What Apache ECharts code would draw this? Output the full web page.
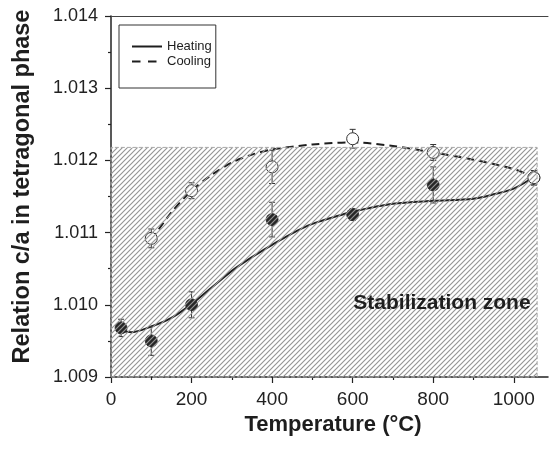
<!DOCTYPE html>
<html>
<head>
<meta charset="utf-8">
<script src="https://cdn.jsdelivr.net/npm/echarts@6/dist/echarts.min.js"></script>
<style>
  html, body { margin: 0; padding: 0; background: #fff; }
  #chart { width: 550px; height: 449px; }
</style>
</head>
<body>
<div id="chart"></div>
<script>
// Measured c/a ratio of the tetragonal phase (heating run)
const heatingTemp  = [25, 100, 200, 400, 600, 800, 1050];
const heatingRatio = [1.00968, 1.00950, 1.01000, 1.01118, 1.01125, 1.01166, 1.01176];
const heatingError = [0.00012, 0.00020, 0.00018, 0.00024, 0.00008, 0.00025, 0.00010];

// Measured c/a ratio (cooling run)
const coolingTemp  = [100, 200, 400, 600, 800, 1050];
const coolingRatio = [1.01092, 1.01158, 1.01191, 1.01230, 1.01211, 1.01176];
const coolingError = [0.00013, 0.00011, 0.00023, 0.00013, 0.00011, 0.00010];

// Fitted trend curves
const heatingFitTemp  = [25, 50, 100, 150, 200, 250, 300, 350, 400, 450, 500, 550, 600, 700, 800, 900, 950, 1000, 1050];
const heatingFitRatio = [1.00964, 1.00962, 1.00970, 1.00982, 1.01001, 1.01024, 1.01047, 1.01066, 1.01083, 1.01099, 1.01112, 1.01121, 1.01129, 1.01140, 1.01144, 1.01147, 1.01153, 1.01161, 1.01177];
const coolingFitTemp  = [100, 150, 200, 250, 300, 350, 400, 500, 600, 700, 800, 900, 1000, 1050];
const coolingFitRatio = [1.01090, 1.01128, 1.01158, 1.01180, 1.01197, 1.01208, 1.01215, 1.01222, 1.01225, 1.01220, 1.01211, 1.01201, 1.01188, 1.01177];

// Stabilization zone bounds
const zoneTemp  = [0, 1058];
const zoneRatio = [1.009, 1.01218];

// Axis ticks
const xTicks      = [0, 200, 400, 600, 800, 1000];
const xMinorTicks = [100, 300, 500, 700, 900];
const yTicks      = [1.009, 1.010, 1.011, 1.012, 1.013, 1.014];

const FONT = '"Liberation Sans", Arial, Helvetica, sans-serif';
const INK = '#1e1e1e';

// Diagonal hatch tile for the zone fill
function hatchTile() {
  const s = 5;
  const c = document.createElement('canvas');
  c.width = s; c.height = s;
  const g = c.getContext('2d');
  g.strokeStyle = '#959595';
  g.lineWidth = 1.15;
  g.beginPath();
  g.moveTo(0, s); g.lineTo(s, 0);
  g.moveTo(-1, 1); g.lineTo(1, -1);
  g.moveTo(s - 1, s + 1); g.lineTo(s + 1, s - 1);
  g.stroke();
  return c;
}

function pairs(xs, ys) { return xs.map((x, i) => [x, ys[i]]); }

function errorBars(xs, ys, es) {
  return {
    type: 'custom',
    silent: true,
    z: 3,
    encode: { x: 0, y: [1, 2] },
    data: xs.map((x, i) => [x, ys[i] - es[i], ys[i] + es[i]]),
    renderItem(params, api) {
      const lo = api.coord([api.value(0), api.value(1)]);
      const hi = api.coord([api.value(0), api.value(2)]);
      const w = 3;
      const style = { stroke: '#333', lineWidth: 1, fill: null };
      return {
        type: 'group',
        children: [
          { type: 'line', shape: { x1: lo[0], y1: lo[1], x2: hi[0], y2: hi[1] }, style },
          { type: 'line', shape: { x1: lo[0] - w, y1: lo[1], x2: lo[0] + w, y2: lo[1] }, style },
          { type: 'line', shape: { x1: hi[0] - w, y1: hi[1], x2: hi[0] + w, y2: hi[1] }, style }
        ]
      };
    }
  };
}

const xBase = { type: 'value', min: 0, max: 1085, splitLine: { show: false } };

const chart = echarts.init(document.getElementById('chart'), null, { renderer: 'canvas' });
chart.setOption({
  animation: false,
  backgroundColor: '#fff',
  textStyle: { fontFamily: FONT },
  grid: { left: 111, right: 2, top: 16, bottom: 72, containLabel: false },
  legend: {
    orient: 'vertical',
    left: 119, top: 25,
    padding: [15, 4, 20, 12],
    itemGap: 2,
    itemWidth: 30, itemHeight: 14,
    borderColor: '#333', borderWidth: 1, borderRadius: 0,
    itemStyle: { opacity: 0, color: 'rgba(0,0,0,0)', borderColor: 'rgba(0,0,0,0)', borderWidth: 0 },
    lineStyle: { width: 2, color: INK },
    textStyle: { fontFamily: FONT, fontSize: 13, color: INK },
    data: [
      { name: 'Heating' },
      { name: 'Cooling', lineStyle: { type: [8.5, 7.5] } }
    ]
  },
  xAxis: [
    Object.assign({}, xBase, {
      position: 'bottom',
      axisLine: { lineStyle: { color: '#222', width: 1.5 } },
      axisTick: { customValues: xTicks, length: 6, lineStyle: { color: '#222', width: 1.2 } },
      axisLabel: {
        customValues: xTicks, fontSize: 19, margin: 13, color: '#222', fontFamily: FONT,
        formatter: v => String(v)
      },
      name: 'Temperature (°C)',
      nameLocation: 'middle',
      nameGap: 32,
      nameTextStyle: { fontFamily: FONT, fontSize: 22, fontWeight: 'bold', color: INK, padding: [0, 0, 0, 7] }
    }),
    Object.assign({}, xBase, {
      position: 'bottom',
      axisLine: { show: false },
      axisTick: { customValues: xMinorTicks, length: 3, lineStyle: { color: '#222', width: 1.2 } },
      axisLabel: { show: false }
    }),
    Object.assign({}, xBase, {
      position: 'top',
      axisLine: { lineStyle: { color: '#444', width: 1 } },
      axisTick: { show: false },
      axisLabel: { show: false }
    })
  ],
  yAxis: {
    type: 'value',
    min: 1.009, max: 1.014, interval: 0.001,
    splitLine: { show: false },
    axisLine: { show: true, lineStyle: { color: '#222', width: 1.5 } },
    axisTick: { show: true, customValues: yTicks, length: 6, lineStyle: { color: '#222', width: 1.2 } },
    minorTick: { show: true, splitNumber: 2, length: 3, lineStyle: { color: '#222', width: 1.2 } },
    axisLabel: {
      customValues: yTicks, fontSize: 18, margin: 13, color: '#222', fontFamily: FONT,
      formatter: v => v.toFixed(3)
    },
    name: 'Relation c/a in tetragonal phase',
    nameLocation: 'middle',
    nameGap: 76,
    nameTextStyle: { fontFamily: FONT, fontSize: 23.5, fontWeight: 'bold', color: INK, padding: [0, 0, 0, 20] }
  },
  series: [
    {
      name: 'Heating',
      type: 'line',
      z: 2,
      symbol: 'none',
      smooth: 0.3,
      data: pairs(heatingFitTemp, heatingFitRatio),
      lineStyle: { color: INK, width: 2, type: 'solid' },
      itemStyle: { color: INK }
    },
    {
      name: 'Cooling',
      type: 'line',
      z: 2,
      symbol: 'none',
      smooth: 0.3,
      data: pairs(coolingFitTemp, coolingFitRatio),
      lineStyle: { color: INK, width: 2, type: [8, 5] },
      itemStyle: { color: INK }
    },
    errorBars(heatingTemp, heatingRatio, heatingError),
    errorBars(coolingTemp, coolingRatio, coolingError),
    {
      name: 'Heating data',
      type: 'scatter',
      z: 4,
      symbol: 'circle',
      symbolSize: 12,
      data: pairs(heatingTemp, heatingRatio),
      itemStyle: { color: '#262626', borderColor: '#222', borderWidth: 0.8, opacity: 1 }
    },
    {
      name: 'Cooling data',
      type: 'scatter',
      z: 4,
      symbol: 'circle',
      symbolSize: 12,
      data: pairs(coolingTemp, coolingRatio),
      itemStyle: { color: '#fff', borderColor: '#333', borderWidth: 1, opacity: 1 }
    },
    {
      name: 'zone',
      type: 'line',
      z: 10,
      data: [],
      silent: true,
      markArea: {
        z: 10,
        silent: true,
        itemStyle: {
          color: { image: hatchTile(), repeat: 'repeat' },
          borderColor: '#a8a8a8', borderWidth: 1, borderType: 'dashed'
        },
        label: {
          show: true,
          position: 'insideRight',
          distance: 7,
          offset: [0, 41],
          fontFamily: FONT, fontSize: 21, fontWeight: 'bold', color: INK
        },
        data: [[
          { name: 'Stabilization zone', xAxis: zoneTemp[0], yAxis: zoneRatio[0] },
          { xAxis: zoneTemp[1], yAxis: zoneRatio[1] }
        ]]
      }
    }
  ]
});
</script>
</body>
</html>
